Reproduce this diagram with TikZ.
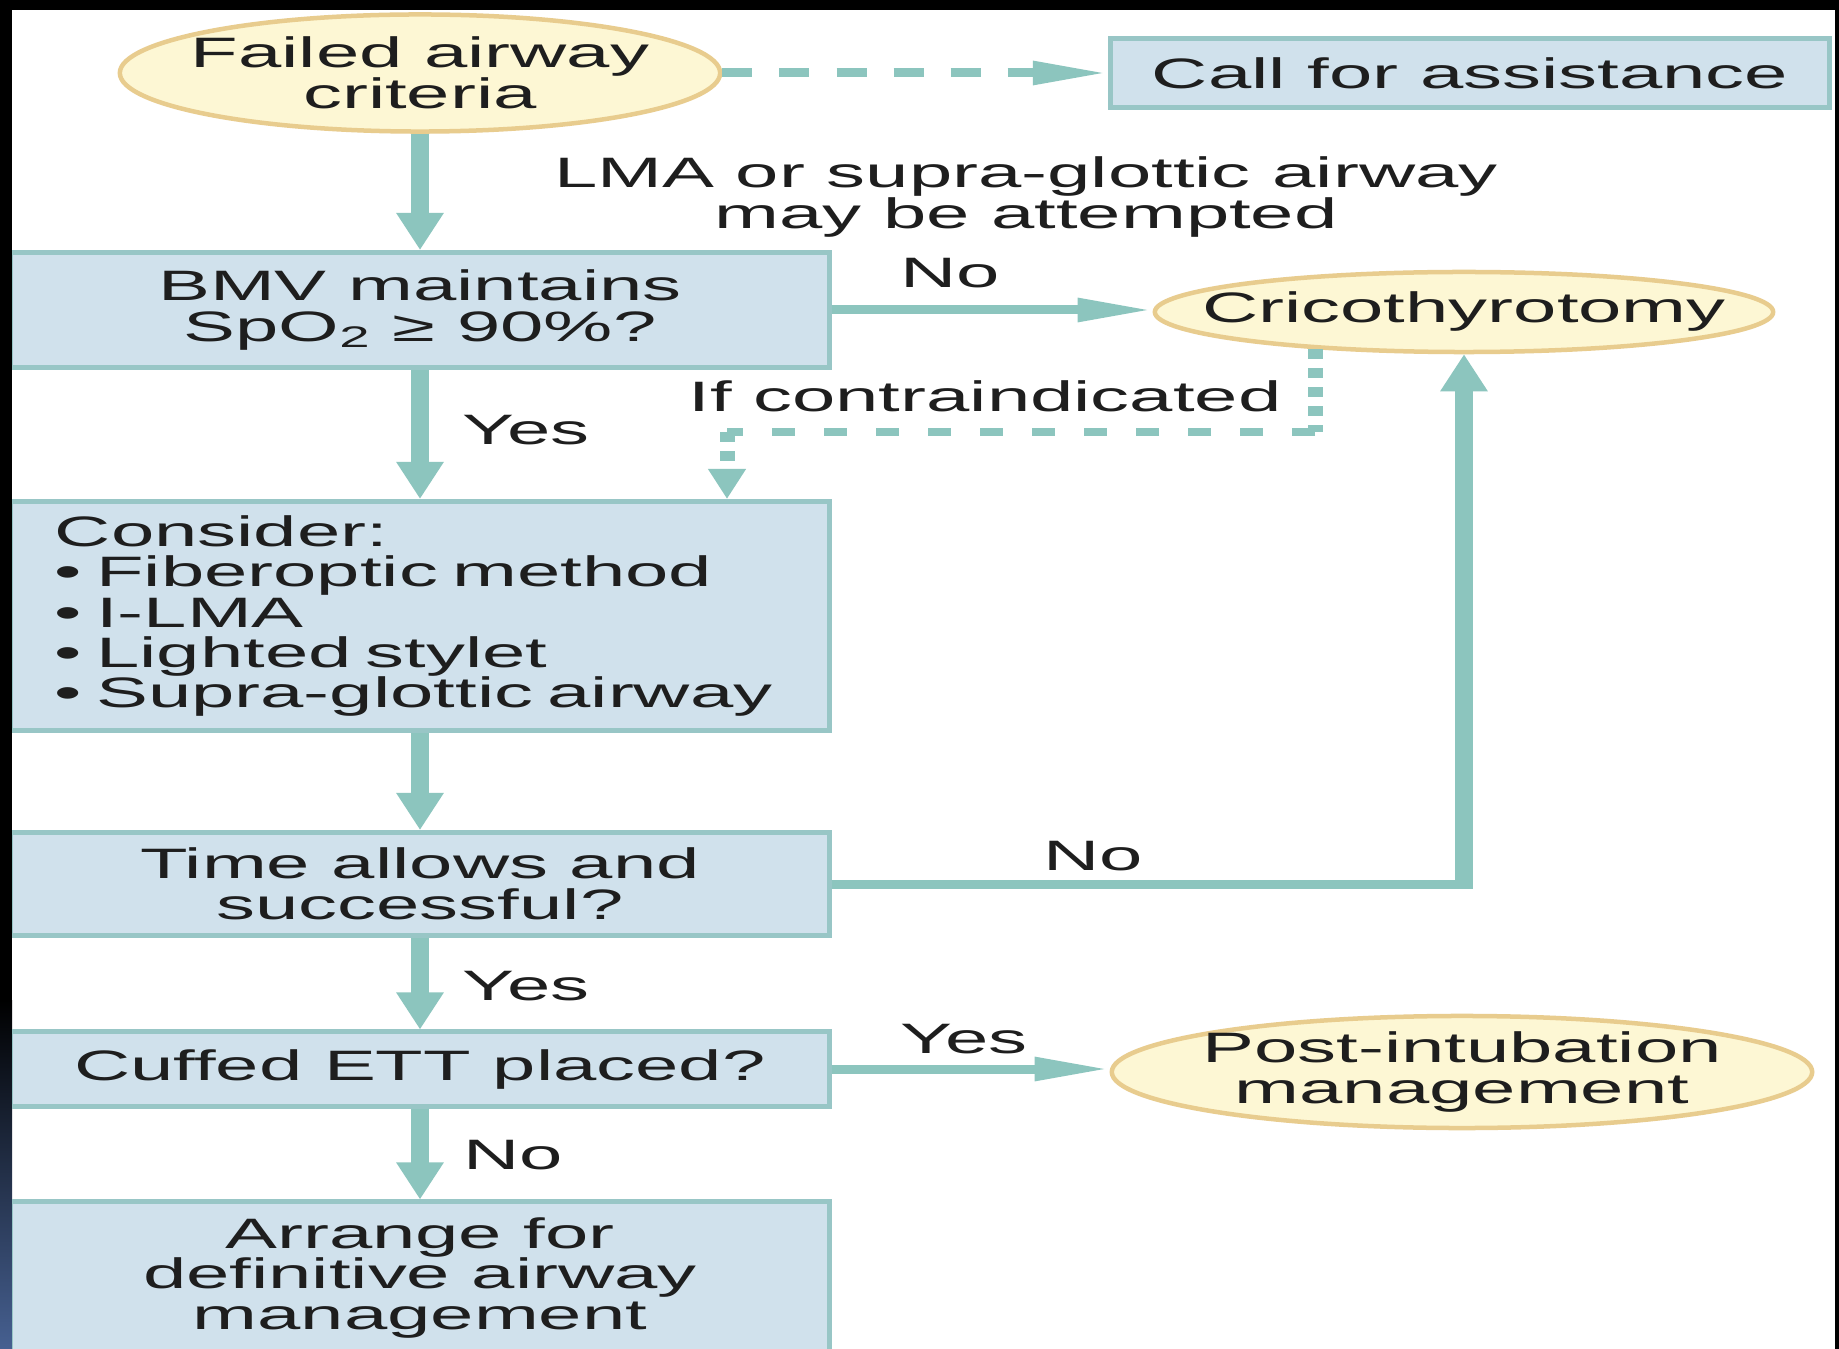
\documentclass[tikz,border=0pt]{standalone}
\usepackage{fontspec}
\setmainfont{Liberation Sans}[FakeStretch=1.83]
\usepackage{xcolor}
\usepackage{tikz}
\usetikzlibrary{shapes.geometric}
\usetikzlibrary{arrows.meta}
\usetikzlibrary{positioning}

\definecolor{flowline}{RGB}{140,197,190}
\definecolor{boxfill}{RGB}{208,225,236}
\definecolor{boxedge}{RGB}{152,198,198}
\definecolor{endfill}{RGB}{253,247,212}
\definecolor{endedge}{RGB}{232,204,142}
\definecolor{inktext}{RGB}{30,30,30}
\definecolor{slideblue}{RGB}{70,96,145}
\newcommand{\flowfont}{\fontsize{12.1pt}{11.5pt}\selectfont}

\begin{document}
\begin{tikzpicture}[
  x=0.01cm, y=-0.01cm,
  every node/.style={text=inktext, font=\flowfont},
  box/.style={draw=boxedge, fill=boxfill, line width=0.5mm, minimum width=8.18cm, inner sep=0pt},
  endpt/.style={ellipse, draw=endedge, fill=endfill, line width=0.45mm, inner sep=0pt},
  inlbl/.style={align=center, inner sep=0pt},
  tag/.style={inner sep=0pt},
  vflow/.style={draw=flowline, line width=1.8mm, -{Triangle[length=3.7mm, width=4.5mm]}},
  hflow/.style={draw=flowline, line width=0.9mm, -{Triangle[length=7.5mm, width=2.2mm]}},
  hline/.style={draw=flowline, line width=0.9mm},
  dotv/.style={draw=flowline, line width=1.5mm, dash pattern=on 1mm off 0.9mm},
  doth/.style={draw=flowline, line width=0.8mm, dash pattern=on 2.3mm off 2.9mm}
]
\useasboundingbox (0,0) rectangle (1839,1349);
\fill[black] (0,0) rectangle (1839,1349);
\fill[white] (12,10) rectangle (1835,1349);
\shade[top color=black, bottom color=slideblue] (0,1000) rectangle (12,1349);
\clip (12,10) rectangle (1835,1349);

\node[endpt, minimum width=6.0cm, minimum height=1.17cm, label={[inlbl]center:Failed airway\\criteria}] (failed) at (420,73) {};
\node[box, minimum width=7.19cm, minimum height=0.69cm] (assist) at (1470,73) {Call for assistance};
\node[box, minimum height=1.15cm, align=center] (bmv) at (420,310) {BMV maintains\\SpO\textsubscript{2} ≥ 90\%?};
\node[endpt, minimum width=6.18cm, minimum height=0.8cm, label={[inlbl]center:Cricothyrotomy}] (crico) at (1464,312) {};
\node[box, minimum height=2.29cm, text width=7.3cm, align=left] (consider) at (420,616) {Consider:\\\textbullet\ Fiberoptic method\\\textbullet\ I-LMA\\\textbullet\ Lighted stylet\\\textbullet\ Supra-glottic airway};
\node[box, minimum height=1.03cm, align=center] (time) at (420,884) {Time allows and\\successful?};
\node[box, minimum height=0.74cm] (cuffed) at (420,1069) {Cuffed ETT placed?};
\node[endpt, minimum width=7.0cm, minimum height=1.12cm, label={[inlbl]center:Post-intubation\\management}] (postint) at (1462,1072) {};
\node[box, minimum height=1.52cm, align=center] (arrange) at (420,1278) {Arrange for\\definitive airway\\management};

\node[tag, align=center] (lma) at (1026,197) {LMA or supra-glottic airway\\may be attempted};
\node[tag] (nocrico) at (950,273) {No};
\node[tag] (yesbmv) at (526,430) {Yes};
\node[tag] (contra) at (985,396) {If contraindicated};
\node[tag] (notime) at (1093,856) {No};
\node[tag] (yestime) at (526,986) {Yes};
\node[tag] (yescuff) at (964,1039) {Yes};
\node[tag] (nocuff) at (513,1155) {No};

\draw[hflow, dash pattern=on 3mm off 2.7mm] (failed.east) -- (assist.west);
\draw[vflow] (failed.south) -- (bmv.north);
\draw[hflow] (bmv.east) -- (bmv.east -| crico.west);
\draw[vflow] (bmv.south) -- (consider.north);
\draw[vflow] (consider.south) -- (time.north);
\draw[vflow] (time.south) -- (cuffed.north);
\draw[vflow] (cuffed.south) -- (arrange.north);
\draw[hflow] (cuffed.east) -- (cuffed.east -| postint.west);

\coordinate (bend) at (time.east -| crico.south);
\draw[hline] (time.east) -- ([xshift=0.9mm]bend);
\draw[vflow] ([yshift=-0.45mm]bend) -- (crico.south);

\coordinate (dline) at (0,432);
\coordinate (dturn) at (727,432);
\draw[dotv] (crico.194.5) -- (crico.194.5 |- dline);
\draw[doth] (crico.194.5 |- dline) -- (dturn);
\draw[dotv, -{Triangle[length=3mm, width=3.6mm]}] (dturn) -- (dturn |- consider.north);
\end{tikzpicture}
\end{document}
